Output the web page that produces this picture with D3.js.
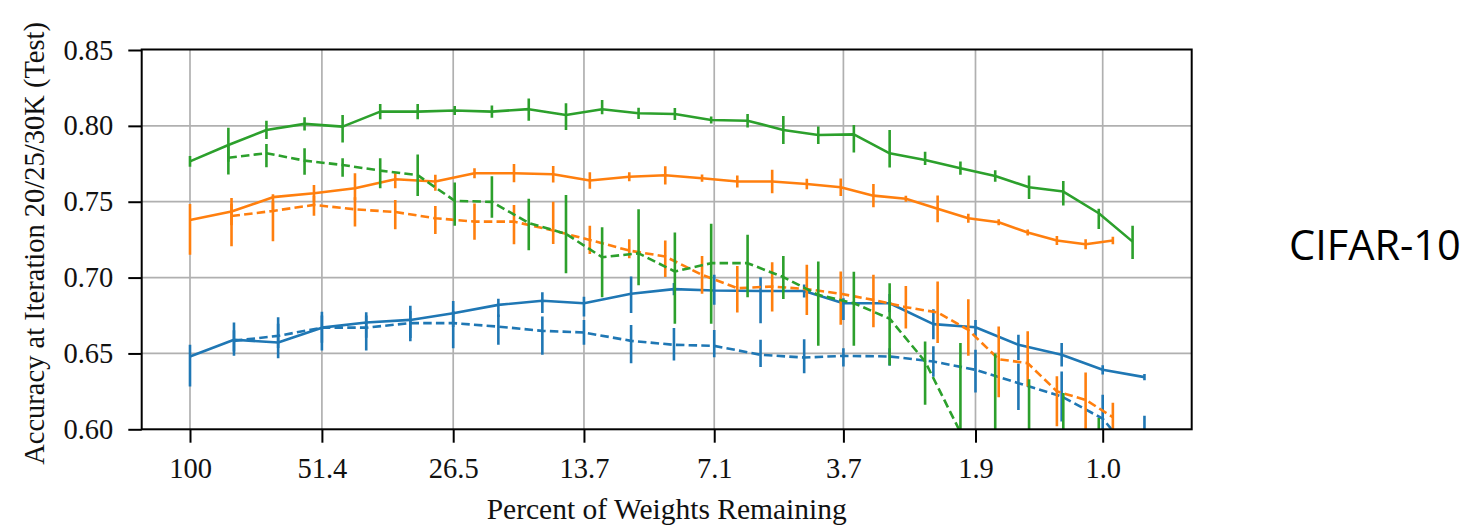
<!DOCTYPE html>
<html>
<head>
<meta charset="utf-8">
<script src="https://cdn.jsdelivr.net/npm/d3@7"></script>
<style>
  body { margin: 0; background: #fff; }
  svg { display: block; }
</style>
</head>
<body>
<svg id="chart" width="1468" height="525"></svg>
<script>
// Percent of weights remaining after each pruning round, one list per network
const pctConv2 = [100, 80.1, 64.1, 51.4, 41.1, 32.9, 26.5, 21.1, 16.9, 13.7, 10.8, 8.7, 7.1, 5.62, 4.51, 3.7, 2.93, 2.35, 1.9, 1.53, 1.23, 1.0, 0.81];
const pctConv4 = [100, 81.1, 65.8, 53.5, 43.5, 35.5, 29.0, 23.8, 19.5, 16.0, 13.3, 10.9, 9.09, 7.55, 6.32, 5.30, 4.45, 3.75, 3.18, 2.70, 2.30, 1.97, 1.69, 1.46, 1.26, 1.09, 0.95];
const pctConv6 = [100, 82.4, 68.0, 56.1, 46.3, 38.3, 31.7, 26.3, 21.8, 18.1, 15.0, 12.5, 10.4, 8.66, 7.21, 6.00, 5.01, 4.20, 3.51, 2.93, 2.45, 2.05, 1.72, 1.45, 1.22, 1.02, 0.86];

// Mean test accuracy; errors are [below, above] extents (min / max over trials)
const conv2Ticket = [0.648, 0.659, 0.6572, 0.667, 0.6704, 0.6721, 0.6765, 0.682, 0.6847, 0.6831, 0.6893, 0.6924, 0.6915, 0.6912, 0.6912, 0.6831, 0.6831, 0.6693, 0.6673, 0.6557, 0.6491, 0.6392, 0.6344];
const conv2TicketErr = [[0.0198,0.0077],[0.0105,0.0114],[0.0103,0.0167],[0.0151,0.0105],[0.010,0.0068],[0.012,0.0094],[0.009,0.0081],[0.008,0.004],[0.0081,0.0057],[0.0088,0.0043],[0.0127,0.0114],[0.004,0.004],[0.0094,0.0103],[0.0213,0.009],[0.0043,0.0043],[0.011,0.0033],[0.006,0.006],[0.01,0.0099],[0.0062,0.0048],[0.01,0.0066],[0.0077,0.0077],[0.003,0.003],[0.002,0.002]];
const conv2Random = [null, 0.6583, 0.6616, 0.667, 0.667, 0.67, 0.67, 0.6677, 0.6649, 0.6638, 0.6583, 0.6557, 0.655, 0.6491, 0.6473, 0.6484, 0.648, 0.6447, 0.6392, 0.6304, 0.6216, 0.607, 0.574];
const conv2RandomErr = [null,[0.007,0.007],[0.008,0.008],[0.01,0.008],[0.015,0.008],[0.012,0.008],[0.0165,0.008],[0.012,0.008],[0.0158,0.0094],[0.0081,0.0083],[0.0147,0.0105],[0.0103,0.011],[0.0075,0.0105],[0.0081,0.0099],[0.0103,0.012],[0.007,0.005],[0.0061,0.0055],[0.01,0.01],[0.015,0.0132],[0.0176,0.013],[0.0165,0.0165],[0.015,0.0157],[0.02,0.035]];

const conv4Ticket = [0.738, 0.7435, 0.753, 0.7556, 0.7589, 0.7648, 0.7633, 0.7688, 0.7688, 0.7681, 0.764, 0.7665, 0.7674, 0.7655, 0.7633, 0.7633, 0.7617, 0.7595, 0.754, 0.752, 0.7453, 0.7391, 0.7365, 0.7297, 0.7244, 0.722, 0.7244];
const conv4TicketErr = [[0.023,0.0105],[0.009,0.009],[0.01,0.002],[0.006,0.0055],[0.008,0.0099],[0.006,0.004],[0.006,0.0044],[0.0033,0.0033],[0.006,0.006],[0.0055,0.0055],[0.0055,0.0055],[0.003,0.003],[0.006,0.006],[0.0024,0.0024],[0.004,0.004],[0.0077,0.0077],[0.0035,0.0035],[0.0058,0.0058],[0.0077,0.0077],[0.002,0.002],[0.0088,0.0088],[0.003,0.003],[0.002,0.002],[0.002,0.002],[0.003,0.003],[0.0033,0.0033],[0.0025,0.0025]];
const conv4Random = [null, 0.7406, 0.7439, 0.7479, 0.745, 0.7432, 0.7391, 0.7369, 0.7369, 0.731, 0.7248, 0.7178, 0.7139, 0.7018, 0.693, 0.6941, 0.6924, 0.6893, 0.6853, 0.6805, 0.677, 0.6655, 0.6462, 0.6436, 0.625, 0.6194, 0.608];
const conv4RandomErr = [null,[0.02,0.008],[0.02,0.006],[0.0072,0.006],[0.0114,0.008],[0.0114,0.008],[0.0103,0.008],[0.012,0.012],[0.015,0.011],[0.0088,0.019],[0.0093,0.0093],[0.005,0.0075],[0.0136,0.0105],[0.0125,0.0125],[0.016,0.0147],[0.0165,0.016],[0.017,0.016],[0.0204,0.0147],[0.018,0.0165],[0.014,0.014],[0.0202,0.0204],[0.017,0.0202],[0.025,0.0215],[0.0154,0.021],[0.023,0.0099],[0.02,0.018],[0.009,0.0095]];

const conv6Ticket = [0.7766, 0.7874, 0.7973, 0.8013, 0.7995, 0.8094, 0.8094, 0.8101, 0.8094, 0.811, 0.8072, 0.8109, 0.8083, 0.8078, 0.8039, 0.8034, 0.7973, 0.794, 0.7944, 0.7819, 0.7775, 0.7721, 0.767, 0.7595, 0.7567, 0.7424, 0.7237];
const conv6TicketErr = [[0.0035,0.0035],[0.011,0.0114],[0.006,0.006],[0.0044,0.0044],[0.0105,0.0077],[0.005,0.005],[0.005,0.005],[0.003,0.003],[0.004,0.004],[0.0077,0.007],[0.0099,0.0077],[0.0033,0.0061],[0.0037,0.0037],[0.004,0.004],[0.0023,0.0023],[0.0044,0.0044],[0.0092,0.0092],[0.0059,0.0055],[0.0119,0.0061],[0.0094,0.0154],[0.0033,0.0055],[0.0044,0.0044],[0.0038,0.0038],[0.0077,0.0077],[0.0092,0.007],[0.0103,0.0029],[0.0114,0.0105]];
const conv6Random = [null, 0.779, 0.782, 0.7771, 0.7742, 0.7705, 0.7675, 0.7506, 0.7499, 0.736, 0.7288, 0.7134, 0.716, 0.704, 0.7095, 0.7095, 0.7003, 0.6886, 0.6831, 0.6729, 0.6447, 0.598, 0.575, 0.565, 0.56, 0.55, null];
const conv6RandomErr = [null,[0.011,0.008],[0.0092,0.006],[0.0094,0.0081],[0.0077,0.0044],[0.0116,0.0081],[0.0138,0.0136],[0.0165,0.012],[0.0105,0.0169],[0.018,0.016],[0.0259,0.0257],[0.0264,0.0198],[0.021,0.029],[0.0345,0.0257],[0.04,0.026],[0.0224,0.0187],[0.0145,0.014],[0.0336,0.022],[0.028,0.0208],[0.0307,0.0233],[0.0285,0.0132],[0.03,0.0588],[0.03,0.075],[0.03,0.068],[0.03,0.064],[0.03,0.0574],null];

// Axis ticks
const xTickValues = [100, 51.4, 26.5, 13.7, 7.1, 3.7, 1.9, 1.0];
const xTickLabels = ["100", "51.4", "26.5", "13.7", "7.1", "3.7", "1.9", "1.0"];
const yTickValues = [0.60, 0.65, 0.70, 0.75, 0.80, 0.85];

const BLUE = "#1f77b4", ORANGE = "#ff7f0e", GREEN = "#2ca02c";

const series = [
  { pct: pctConv2, mean: conv2Ticket, err: conv2TicketErr, color: BLUE,   dashed: false },
  { pct: pctConv2, mean: conv2Random, err: conv2RandomErr, color: BLUE,   dashed: true  },
  { pct: pctConv4, mean: conv4Ticket, err: conv4TicketErr, color: ORANGE, dashed: false },
  { pct: pctConv4, mean: conv4Random, err: conv4RandomErr, color: ORANGE, dashed: true  },
  { pct: pctConv6, mean: conv6Ticket, err: conv6TicketErr, color: GREEN,  dashed: false },
  { pct: pctConv6, mean: conv6Random, err: conv6RandomErr, color: GREEN,  dashed: true  }
];

// Plot frame
const frame = { left: 141.7, top: 49.5, right: 1191.7, bottom: 429.3 };
const serif = "'Liberation Serif', 'Times New Roman', serif";
const LW = 2.6;

const svg = d3.select("#chart");
svg.append("rect").attr("width", 1468).attr("height", 525).attr("fill", "#fff");

const x = d3.scaleLog().domain([100, 1]).range([190, 1102.7]);
const y = d3.scaleLinear().domain([0.60, 0.85]).range([frame.bottom, 50]);

svg.append("defs").append("clipPath").attr("id", "plotClip")
  .append("rect")
  .attr("x", frame.left).attr("y", frame.top)
  .attr("width", frame.right - frame.left).attr("height", frame.bottom - frame.top);

// Grid
const grid = svg.append("g").attr("stroke", "#b0b0b0").attr("stroke-width", 1.7);
grid.selectAll("line.vx").data(xTickValues).join("line")
  .attr("x1", d => x(d)).attr("x2", d => x(d))
  .attr("y1", frame.top).attr("y2", frame.bottom);
grid.selectAll("line.hy").data(yTickValues.slice(1, -1)).join("line")
  .attr("x1", frame.left).attr("x2", frame.right)
  .attr("y1", d => y(d)).attr("y2", d => y(d));

// Series: line plus min/max error bars
const plot = svg.append("g").attr("clip-path", "url(#plotClip)");
series.forEach(s => {
  const pts = s.pct.map((p, i) => ({ p, v: s.mean[i], e: s.err[i] })).filter(d => d.v != null);
  const g = plot.append("g");
  g.append("path")
    .datum(pts)
    .attr("fill", "none")
    .attr("stroke", s.color)
    .attr("stroke-width", LW)
    .attr("stroke-linejoin", "round")
    .attr("stroke-dasharray", s.dashed ? "8.5,4.2" : null)
    .attr("d", d3.line().x(d => x(d.p)).y(d => y(d.v)));
  g.selectAll("line").data(pts).join("line")
    .attr("stroke", s.color)
    .attr("stroke-width", LW)
    .attr("x1", d => x(d.p)).attr("x2", d => x(d.p))
    .attr("y1", d => y(d.v - d.e[0])).attr("y2", d => y(d.v + d.e[1]));
});

// Axes
const xAxis = d3.axisBottom(x)
  .tickValues(xTickValues)
  .tickFormat((d, i) => xTickLabels[i])
  .tickSize(13.4).tickSizeOuter(0).tickPadding(15.5);
const gx = svg.append("g").attr("transform", `translate(0,${frame.bottom})`).call(xAxis);

const yAxis = d3.axisLeft(y)
  .tickValues(yTickValues)
  .tickFormat(d3.format(".2f"))
  .tickSize(13.4).tickSizeOuter(0).tickPadding(15);
const gy = svg.append("g").attr("transform", `translate(${frame.left},0)`).call(yAxis);

[gx, gy].forEach(g => {
  g.select(".domain").remove();
  g.attr("font-family", serif).attr("font-size", 28.5);
  g.selectAll(".tick line").attr("stroke", "#000").attr("stroke-width", 2);
  g.selectAll(".tick text").attr("fill", "#111");
});

// Frame border
svg.append("rect")
  .attr("x", frame.left).attr("y", frame.top)
  .attr("width", frame.right - frame.left).attr("height", frame.bottom - frame.top)
  .attr("fill", "none").attr("stroke", "#000").attr("stroke-width", 2);

// Axis titles
svg.append("text")
  .attr("x", (frame.left + frame.right) / 2).attr("y", 519)
  .attr("text-anchor", "middle")
  .attr("font-family", serif).attr("font-size", 29.5).attr("fill", "#111")
  .text("Percent of Weights Remaining");

svg.append("text")
  .attr("transform", `translate(44,${(frame.top + frame.bottom) / 2 + 4}) rotate(-90)`)
  .attr("text-anchor", "middle")
  .attr("font-family", serif).attr("font-size", 28.5).attr("fill", "#111")
  .text("Accuracy at Iteration 20/25/30K (Test)");

// Dataset label
svg.append("text")
  .attr("x", 1289).attr("y", 260)
  .attr("font-family", "'Open Sans', 'Noto Sans', sans-serif").attr("font-size", 41.5)
  .attr("fill", "#000")
  .text("CIFAR-10");
</script>
</body>
</html>
